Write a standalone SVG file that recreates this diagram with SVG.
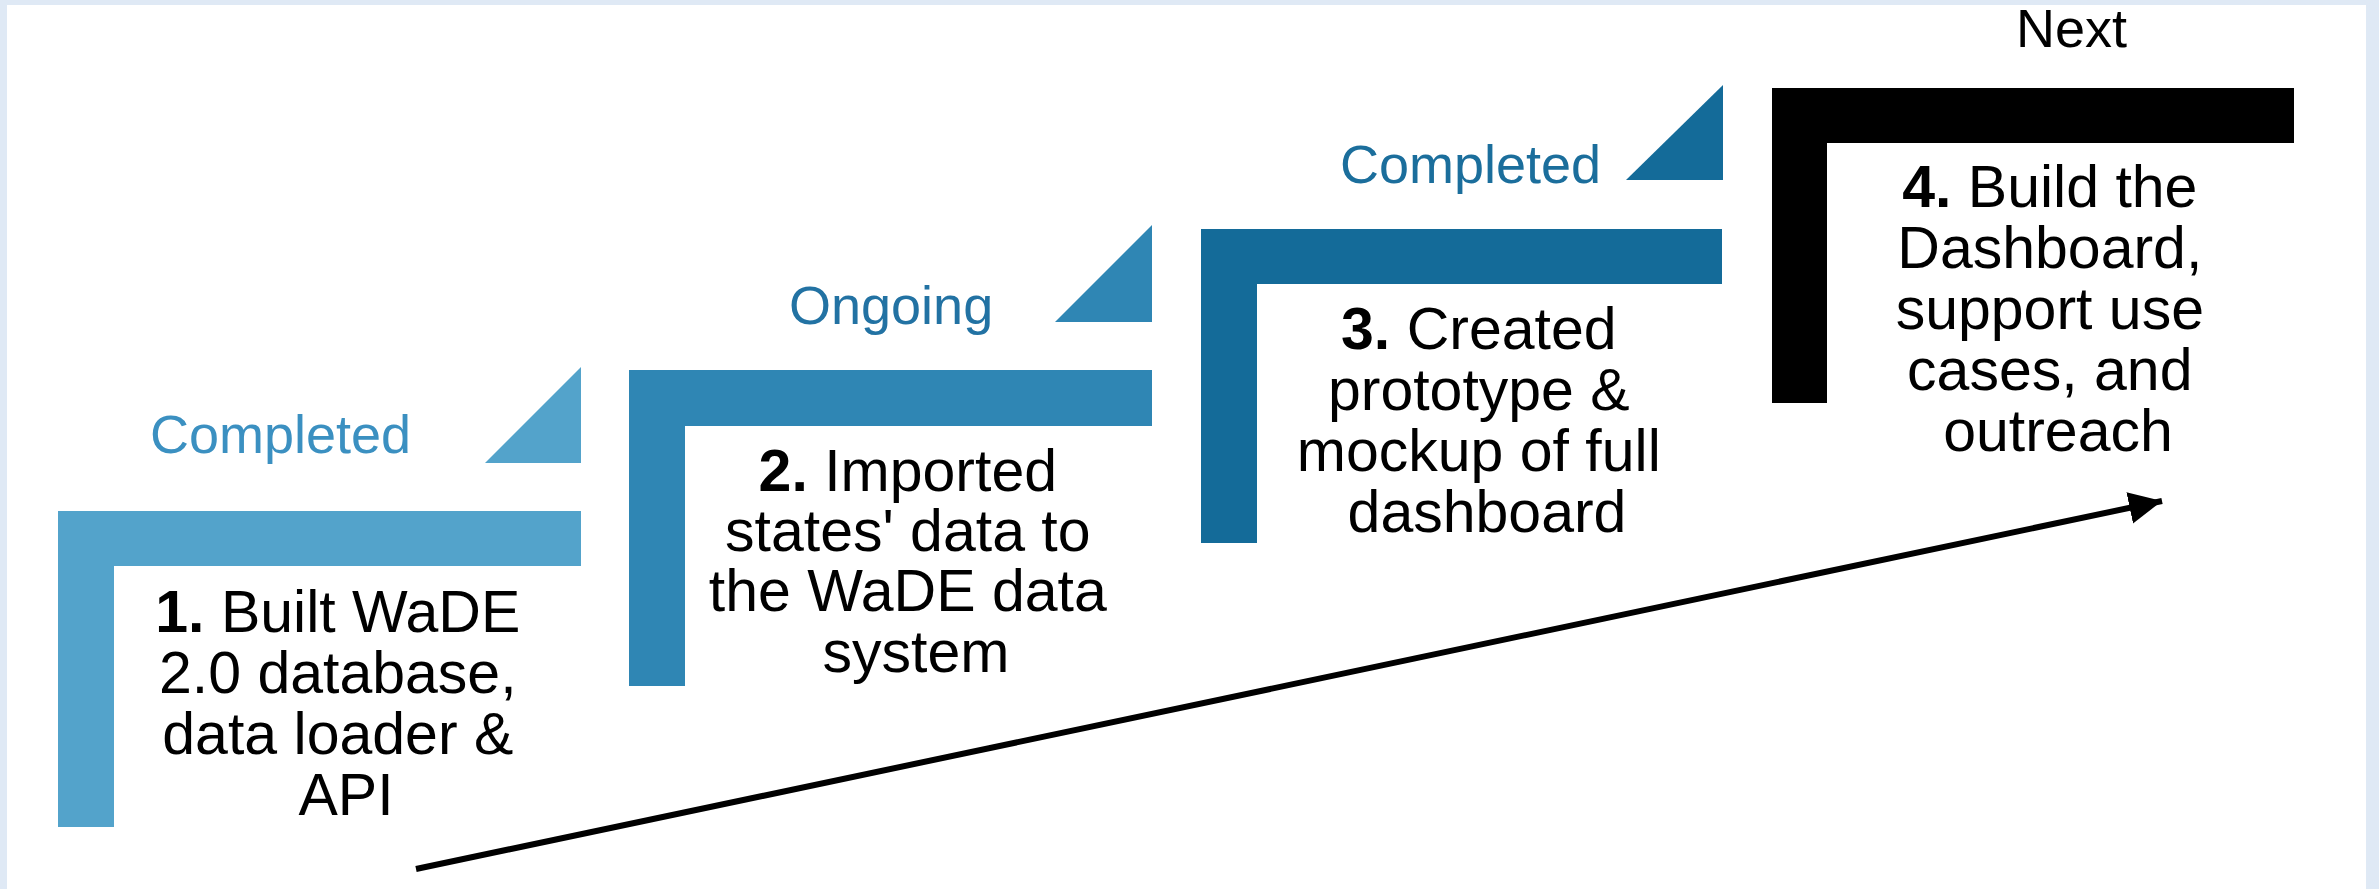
<svg xmlns="http://www.w3.org/2000/svg" width="2379" height="889" viewBox="0 0 2379 889">
<style>
.body{font-family:"Liberation Sans",Arial,sans-serif;font-size:59px;fill:#000;text-anchor:middle}
.lab{font-family:"Liberation Sans",Arial,sans-serif;font-size:54px}
.num{font-weight:bold}
.s1{fill:#53a3cb}
.s2{fill:#2f86b4}
.s3{fill:#146b99}
.s4{fill:#000}
</style>
<defs>
<marker id="ah" markerUnits="userSpaceOnUse" markerWidth="36" markerHeight="34" refX="33" refY="16" orient="auto">
<path d="M0,0 L33,16 L0,32 Z" fill="#000"/>
</marker>
</defs>
<rect x="0" y="0" width="2379" height="889" fill="#dfe9f5"/>
<rect x="7" y="5" width="2359" height="884" fill="#fff"/>

<g id="step1">
<path class="s1" d="M58,511 H581 V566 H114 V827 H58 Z"/>
<polygon class="s1" points="581,367 485,463 581,463"/>
<text class="lab" x="150" y="453" fill="#3b90c1">Completed</text>
<text class="body">
<tspan x="346" y="632"><tspan class="num">1.</tspan> Built WaDE</tspan>
<tspan x="346" y="693">2.0 database,</tspan>
<tspan x="346" y="754">data loader &amp;</tspan>
<tspan x="346" y="815">API</tspan>
</text>
</g>

<g id="step2">
<path class="s2" d="M629,370 H1152 V426 H685 V686 H629 Z"/>
<polygon class="s2" points="1152,225 1055,322 1152,322"/>
<text class="lab" x="789" y="324" fill="#2272a3">Ongoing</text>
<text class="body">
<tspan x="916" y="491"><tspan class="num">2.</tspan> Imported</tspan>
<tspan x="916" y="551">states' data to</tspan>
<tspan x="916" y="611">the WaDE data</tspan>
<tspan x="916" y="672">system</tspan>
</text>
</g>

<g id="step3">
<path class="s3" d="M1201,229 H1722 V284 H1257 V543 H1201 Z"/>
<polygon class="s3" points="1723,85 1626,180 1723,180"/>
<text class="lab" x="1340" y="183" fill="#1b6e9c">Completed</text>
<text class="body">
<tspan x="1487" y="349"><tspan class="num">3.</tspan> Created</tspan>
<tspan x="1487" y="410">prototype &amp;</tspan>
<tspan x="1487" y="471">mockup of full</tspan>
<tspan x="1487" y="532">dashboard</tspan>
</text>
</g>

<g id="step4">
<path class="s4" d="M1772,88 H2294 V143 H1827 V403 H1772 Z"/>
<text class="lab" x="2016" y="47" fill="#000">Next</text>
<text class="body">
<tspan x="2058" y="207"><tspan class="num">4.</tspan> Build the</tspan>
<tspan x="2058" y="268">Dashboard,</tspan>
<tspan x="2058" y="329">support use</tspan>
<tspan x="2058" y="390">cases, and</tspan>
<tspan x="2058" y="451">outreach</tspan>
</text>
</g>

<g id="connectors">
<line x1="416" y1="869" x2="2162" y2="501" stroke="#000" stroke-width="6" marker-end="url(#ah)"/>
</g>
</svg>
